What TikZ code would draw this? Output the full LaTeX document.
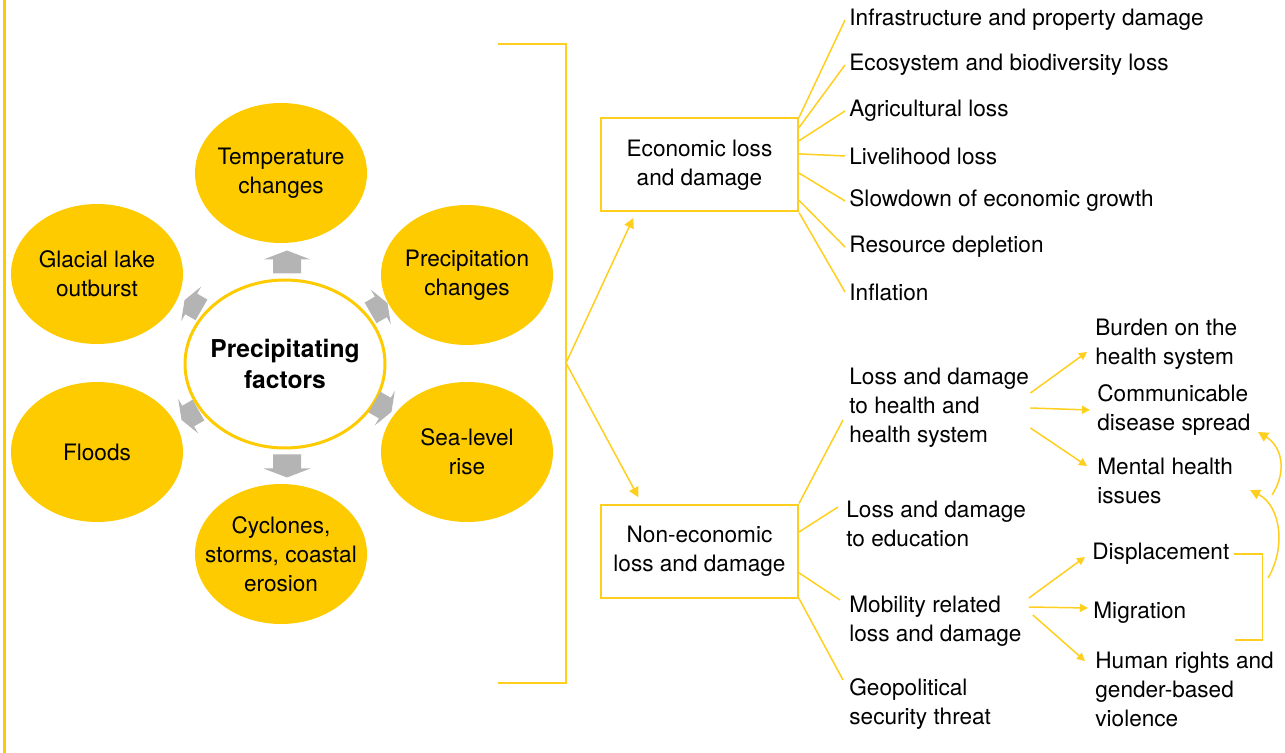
\documentclass[tikz,border=0pt]{standalone}
\usepackage{fontspec}
\setmainfont{TeX Gyre Heros}
\usetikzlibrary{%
  positioning
 ,arrows.meta
 ,shapes.geometric
 ,calc
}
\definecolor{gold}{HTML}{FDCB00}
\definecolor{lgold}{HTML}{FFCF1F}
\definecolor{arrgray}{HTML}{B4B4B4}
\tikzstyle{fac}=[ellipse,fill=gold,minimum width=86pt,minimum height=70pt,align=center,inner sep=-10pt]
\tikzstyle{hub}=[ellipse,draw=gold,line width=1.5pt,fill=white,minimum width=100pt,minimum height=84pt,align=center,inner sep=-12pt,font=\bfseries\fontsize{12.3}{15.5}\selectfont]
\tikzstyle{box}=[rectangle,draw=lgold,line width=1pt,minimum width=98.5pt,minimum height=46.5pt,align=center]
\tikzstyle{itm}=[anchor=west,inner sep=2pt,align=left,yshift=-1.5pt]
\tikzstyle{ln}=[draw=lgold,line width=0.75pt]
\tikzstyle{arr}=[ln,-{Triangle[length=5pt,width=5pt]}]
\tikzstyle{sarr}=[ln,-{Triangle[length=4pt,width=4pt]}]
\tikzset{blkarrow/.pic={
  \fill[arrgray] (-11.5,-14) -- (2.5,-14) -- (2.5,-23.5) -- (11.5,0)
    -- (2.5,23.5) -- (2.5,14) -- (-11.5,14) -- cycle;
}}

\begin{document}
\begin{tikzpicture}[x=0.5pt,y=-0.5pt,font=\fontsize{11.3}{14.5}\selectfont]
  \useasboundingbox (0,0) rectangle (1285,753);
  \draw[gold,line width=1.5pt] (4,0) -- (4,753);

  % precipitating factors
  \node[fac] (f_0) at (281,173) {Temperature\\changes};
  \node[fac] (f_1) at (467,275) {Precipitation\\changes};
  \node[fac] (f_2) at (467,452) {Sea-level\\rise};
  \node[fac] (f_3) at (281,554) {Cyclones,\\storms, coastal\\erosion};
  \node[fac] (f_4) at (97,452) {Floods};
  \node[fac] (f_5) at (97,274) {Glacial lake\\outburst};
  \node[hub] (hub) at (285,364) {Precipitating\\factors};
  \pic[rotate=90] at (287,262) {blkarrow};
  \pic[rotate=30,scale=0.85] at (379,308) {blkarrow};
  \pic[rotate=-30,scale=0.85] at (383,407) {blkarrow};
  \pic[rotate=-90] at (287,466) {blkarrow};
  \pic[rotate=-150,scale=0.85] at (190,415) {blkarrow};
  \pic[rotate=150,scale=0.85] at (193,305) {blkarrow};

  % bracket
  \draw[ln,line width=1pt] (498,44) -- (566,44) -- (566,683) -- (498,683);
  \coordinate (fork) at (566,363);

  \node[box] (econ) at (699.5,165) {Economic loss\\and damage};
  \node[box] (nonec) at (699.5,551) {Non-economic\\loss and damage};
  \path
    (fork) edge[arr,shorten >=3pt] ($(econ.south west)!0.18!(econ.south east)$)
    (fork) edge[arr,shorten >=3.5pt] ($(nonec.north west)!0.21!(nonec.north east)$);

  % economic
  \node[itm] (e_0) at (845,17) {Infrastructure and property damage};
  \node[itm] (e_1) at (845,62) {Ecosystem and biodiversity loss};
  \node[itm] (e_2) at (845,108) {Agricultural loss};
  \node[itm] (e_3) at (845,153) {Livelihood loss};
  \node[itm] (e_4) at (845,198) {Slowdown of economic growth};
  \node[itm] (e_5) at (845,244) {Resource depletion};
  \node[itm] (e_6) at (845,289) {Inflation};
  \path[ln]
    (econ.north east) edge (e_0.west)
    ($(econ.north east)!0.106!(econ.south east)$) edge (e_1.west)
    ($(econ.north east)!0.245!(econ.south east)$) edge (e_2.west)
    ($(econ.north east)!0.383!(econ.south east)$) edge (e_3.west)
    ($(econ.north east)!0.585!(econ.south east)$) edge (e_4.west)
    ($(econ.north east)!0.872!(econ.south east)$) edge (e_5.west)
    (econ.south east) edge (e_6.west);

  % non-economic
  \node[itm] (n_0) at (845,405) {Loss and damage\\to health and\\health system};
  \node[itm] (n_1) at (842,521) {Loss and damage\\to education};
  \node[itm] (n_2) at (845,618) {Mobility related\\loss and damage};
  \node[itm] (n_3) at (845,701) {Geopolitical\\security threat};
  \path[ln]
    (nonec.north east) edge ($(n_0.west)+(-2,12)$)
    ($(nonec.north east)!0.30!(nonec.south east)$) edge ($(n_1.west)+(-4,-17)$)
    ($(nonec.north east)!0.73!(nonec.south east)$) edge ($(n_2.west)+(-5,-21)$)
    (nonec.south east) edge ($(n_3.west)+(-2,-24)$);

  % health
  \node[itm] (h_0) at (1091,341) {Burden on the\\health system};
  \node[itm] (h_1) at (1093,407) {Communicable\\disease spread};
  \node[itm] (h_2) at (1093,478) {Mental health\\issues};
  \path
    ($(n_0.east)+(-3,-15)$) edge[sarr] ($(h_0.west)+(-4,8)$)
    ($(n_0.east)+(-3,0)$) edge[sarr] ($(h_1.west)+(-3,0)$)
    ($(n_0.east)+(-3,20)$) edge[sarr] ($(h_2.west)+(-6,-15)$);

  % mobility
  \node[itm] (m_0) at (1088,551) {Displacement};
  \node[itm] (m_1) at (1089,610) {Migration};
  \node[itm] (m_2) at (1091,686) {Human rights and\\gender-based\\violence};
  \path
    ($(n_2.east)+(3,-23)$) edge[sarr] ($(m_0.west)+(-3,3)$)
    ($(n_2.east)+(3,-14)$) edge[sarr] ($(m_1.west)+(-1,-5)$)
    ($(n_2.east)+(7,-6)$) edge[sarr] ($(m_2.west)+(-6,-28)$);
  \coordinate (brk) at (1235,640);
  \draw[ln] (m_0.east) -- ++(29,0) |- (brk);

  \coordinate (c_0) at (1268,578);
  \coordinate (c_1) at (1250,490);
  \coordinate (c_2) at (1272,495);
  \coordinate (c_3) at (1258,432);
  \draw[arr] (c_0) .. controls (1286,548) and (1281,506) .. (c_1);
  \draw[arr] (c_2) .. controls (1288,470) and (1281,446) .. (c_3);
\end{tikzpicture}
\end{document}
